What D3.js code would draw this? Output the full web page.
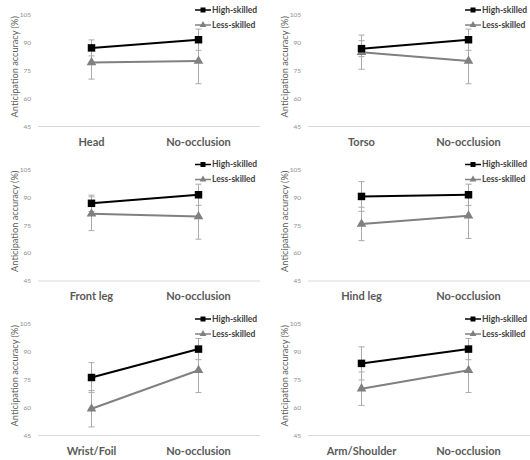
<!DOCTYPE html>
<html><head><meta charset="utf-8">
<script src="https://cdn.jsdelivr.net/npm/d3@7"></script>
<style>body{margin:0;background:#fff;} svg{display:block;}</style>
</head><body>
<svg id="c" width="530" height="460"></svg>
<script>
const regions = ["Head","Torso","Front leg","Hind leg","Wrist/Foil","Arm/Shoulder"];
const controlLabel = "No-occlusion";
const highOccl = [87.3, 86.9, 86.8, 90.5, 76.2, 83.8];
const highOcclErr = [4.3, 4.3, 4.4, 8.0, 8.0, 8.9];
const lessOccl = [79.5, 85.0, 81.2, 75.7, 59.4, 70.2];
const lessOcclErr = [9.0, 9.2, 9.1, 9.0, 9.8, 9.0];
const highCtrl = [91.7, 91.7, 91.4, 91.4, 91.5, 91.5];
const highCtrlErr = [5.7, 5.7, 5.7, 5.7, 5.7, 5.7];
const lessCtrl = [80.2, 80.2, 79.7, 80.1, 80.1, 80.1];
const lessCtrlErr = [12.2, 12.2, 12.2, 12.2, 12.0, 12.0];
const yTicks = [45, 60, 75, 90, 105];
const seriesNames = ["High-skilled", "Less-skilled"];

const svg = d3.select("#c");
const FONT = "Lato, 'Open Sans', sans-serif";
const colX = [0, 270], rowY = [0, 154.5, 309];

regions.forEach((reg, i) => {
  const g = svg.append("g").attr("transform", `translate(${colX[i%2]},${rowY[Math.floor(i/2)]})`);
  const y = d3.scaleLinear().domain([45,105]).range([126.5,15]);
  const x = d3.scaleBand().domain([reg, controlLabel]).range([38,252]);
  const cx = d => x(d) + x.bandwidth()/2;

  g.append("line").attr("x1",38).attr("x2",260).attr("y1",y(45)).attr("y2",y(45))
    .attr("stroke","#d9d9d9").attr("stroke-width",1);
  g.selectAll(".yt").data(yTicks).join("text")
    .attr("x",31).attr("y",d=>y(d)).attr("dy","0.35em").attr("text-anchor","end")
    .attr("font-family",FONT).attr("font-size",6.5).attr("fill","#8c8c8c").text(d=>d);
  g.append("text").attr("transform",`translate(15,${(y(45)+y(105))/2 - 4}) rotate(-90)`)
    .attr("text-anchor","middle").attr("dy","0.35em")
    .attr("font-family",FONT).attr("font-size",9.2).attr("fill","#595959")
    .text("Anticipation accuracy (%)");
  g.selectAll(".xl").data([reg, controlLabel]).join("text")
    .attr("x",d=>cx(d)).attr("y",142).attr("dy","0.35em").attr("text-anchor","middle")
    .attr("font-family",FONT).attr("font-size",11).attr("font-weight","bold").attr("fill","#595959")
    .text(d=>d);

  const series = [
    {name: seriesNames[0], vals:[highOccl[i], highCtrl[i]], errs:[highOcclErr[i], highCtrlErr[i]], color:"#000", marker:"square"},
    {name: seriesNames[1], vals:[lessOccl[i], lessCtrl[i]], errs:[lessOcclErr[i], lessCtrlErr[i]], color:"#808080", marker:"triangle"}
  ];
  const cats = [reg, controlLabel];
  series.forEach(s => {
    s.vals.forEach((v,j) => {
      const xx = cx(cats[j]);
      const eg = g.append("g").attr("stroke","#aaaaaa").attr("stroke-width",1);
      eg.append("line").attr("x1",xx).attr("x2",xx).attr("y1",y(v+s.errs[j])).attr("y2",y(v-s.errs[j]));
      eg.append("line").attr("x1",xx-3).attr("x2",xx+3).attr("y1",y(v+s.errs[j])).attr("y2",y(v+s.errs[j]));
      eg.append("line").attr("x1",xx-3).attr("x2",xx+3).attr("y1",y(v-s.errs[j])).attr("y2",y(v-s.errs[j]));
    });
  });
  [series[1], series[0]].forEach(s => {
    const pts = s.vals.map((v,j)=>[cx(cats[j]), y(v)]);
    g.append("path").attr("d", d3.line()(pts)).attr("fill","none")
      .attr("stroke",s.color).attr("stroke-width",2);
    const sym = s.marker==="square" ? d3.symbolSquare : d3.symbolTriangle;
    const size = s.marker==="square" ? 56 : 40;
    g.selectAll(null).data(pts).join("path")
      .attr("transform",d=>`translate(${d[0]},${d[1]})`)
      .attr("d", d3.symbol().type(sym).size(size)()).attr("fill",s.color);
  });
  series.forEach((s,k) => {
    const ly = 10 + k*15;
    g.append("line").attr("x1",195).attr("x2",211).attr("y1",ly).attr("y2",ly)
      .attr("stroke",s.color).attr("stroke-width",1.5);
    const sym = s.marker==="square" ? d3.symbolSquare : d3.symbolTriangle;
    g.append("path").attr("transform",`translate(203,${ly})`)
      .attr("d", d3.symbol().type(sym).size(s.marker==="square"?25:20)()).attr("fill",s.color);
    g.append("text").attr("x",212).attr("y",ly).attr("dy","0.35em")
      .attr("font-family",FONT).attr("font-size",8.5).attr("font-weight","bold").attr("fill","#404040")
      .text(s.name);
  });
});
</script>
</body></html>
